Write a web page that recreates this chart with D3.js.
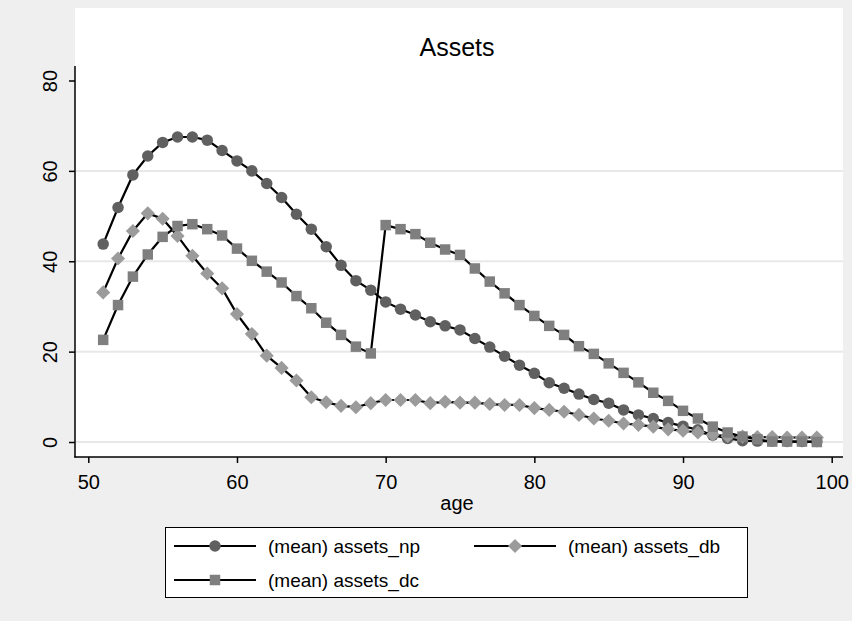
<!DOCTYPE html>
<meta charset="utf-8">
<style>
    body { margin: 0; background: #efefef; }
    text { font-family: "Liberation Sans", Arial, sans-serif; fill: #000; }
    .grid { stroke: #e8e8e8; stroke-width: 2; }
</style>
<body>
<script src="https://cdn.jsdelivr.net/npm/d3@7"></script>
<script>
    var width = 852,
        height = 621;

    var ages = d3.range(51, 100);

    var assetsNp = [43.8, 51.9, 59.1, 63.3, 66.3, 67.5, 67.5, 66.8, 64.5, 62.2,
        60.0, 57.2, 54.1, 50.4, 47.1, 43.2, 39.1, 35.7, 33.6, 31.0,
        29.4, 28.1, 26.6, 25.7, 24.8, 22.9, 21.0, 19.0, 17.0, 15.2,
        13.1, 11.9, 10.6, 9.4, 8.6, 7.1, 6.0, 5.2, 4.3, 3.5,
        2.7, 1.5, 0.8, 0.3, 0.2, 0.2, 0.1, 0.1, 0.1];

    var assetsDb = [33.1, 40.6, 46.7, 50.6, 49.4, 45.6, 41.2, 37.3, 34.0, 28.3,
        23.9, 19.1, 16.4, 13.6, 9.9, 8.8, 8.0, 7.7, 8.6, 9.3,
        9.3, 9.3, 8.6, 8.9, 8.7, 8.7, 8.4, 8.2, 8.2, 7.5,
        7.1, 6.7, 6.0, 5.2, 4.7, 4.1, 3.8, 3.4, 2.8, 2.5,
        2.1, 1.6, 1.3, 1.2, 1.1, 1.1, 1.0, 1.0, 1.0];

    var assetsDc = [22.6, 30.3, 36.6, 41.5, 45.4, 47.8, 48.2, 47.1, 45.7, 42.8,
        40.1, 37.7, 35.3, 32.3, 29.6, 26.4, 23.7, 21.1, 19.6, 48.0,
        47.1, 46.0, 44.1, 42.6, 41.4, 38.4, 35.5, 32.9, 30.3, 27.9,
        25.7, 23.7, 21.2, 19.5, 17.4, 15.3, 13.2, 10.9, 9.1, 6.9,
        5.2, 3.4, 2.1, 1.2, 0.6, 0.1, 0.1, 0.1, 0.0];

    var xTicks = [50, 60, 70, 80, 90, 100];
    var yTicks = [0, 20, 40, 60, 80];

    var series = [
        { name: "(mean) assets_np", values: assetsNp, shape: d3.symbolCircle, size: 104, rot: 0, color: "#606060" },
        { name: "(mean) assets_db", values: assetsDb, shape: d3.symbolSquare, size: 100, rot: 45, color: "#9b9b9b" },
        { name: "(mean) assets_dc", values: assetsDc, shape: d3.symbolSquare, size: 110, rot: 0, color: "#7f7f7f" }
    ];

    var svg = d3.select("body").append("svg")
        .attr("width", width)
        .attr("height", height);

    // plot region
    svg.append("rect")
        .attr("x", 75).attr("y", 8)
        .attr("width", 768).attr("height", 449)
        .attr("fill", "#fff");

    var x = d3.scaleLinear().domain([50, 100]).range([88.3, 831.7]);
    var y = d3.scaleLinear().domain([0, 80]).range([442, 80.5]);

    // grid lines (not at the top tick)
    svg.selectAll(".grid")
        .data(yTicks.filter(function (d) { return d < 80; }))
        .enter().append("line")
        .attr("class", "grid")
        .attr("x1", 76).attr("x2", 843)
        .attr("y1", function (d) { return y(d); })
        .attr("y2", function (d) { return y(d); });

    // axes
    var yAxis = svg.append("g")
        .attr("transform", "translate(75,0)")
        .call(d3.axisLeft(y).tickValues(yTicks).tickSize(6).tickFormat(d3.format("d")));
    yAxis.select(".domain").remove();
    yAxis.append("line")
        .attr("x1", 0).attr("x2", 0).attr("y1", 66).attr("y2", 457.5)
        .attr("stroke", "#000").attr("stroke-width", 1.5);
    yAxis.selectAll(".tick line").attr("stroke-width", 1.5);
    yAxis.selectAll(".tick text")
        .attr("font-size", 20)
        .attr("text-anchor", "middle")
        .attr("transform", "rotate(-90)")
        .attr("x", 0).attr("y", -25)
        .attr("dy", "0.36em");

    var xAxis = svg.append("g")
        .attr("transform", "translate(0,457)")
        .call(d3.axisBottom(x).tickValues(xTicks).tickSize(6).tickPadding(12).tickFormat(d3.format("d")));
    xAxis.select(".domain").remove();
    xAxis.append("line")
        .attr("x1", 74.3).attr("x2", 843).attr("y1", 0).attr("y2", 0)
        .attr("stroke", "#000").attr("stroke-width", 1.5);
    xAxis.selectAll(".tick line").attr("stroke-width", 1.5);
    xAxis.selectAll(".tick text").attr("font-size", 20);

    svg.append("text")
        .attr("x", 457).attr("y", 510)
        .attr("text-anchor", "middle")
        .attr("font-size", 20)
        .text("age");

    svg.append("text")
        .attr("x", 457).attr("y", 56)
        .attr("text-anchor", "middle")
        .attr("font-size", 25)
        .text("Assets");

    // series: line then markers, in order
    var line = d3.line()
        .x(function (d, i) { return x(ages[i]); })
        .y(function (d) { return y(d); });

    series.forEach(function (s) {
        var g = svg.append("g");
        g.append("path")
            .attr("d", line(s.values))
            .attr("fill", "none")
            .attr("stroke", "#000")
            .attr("stroke-width", 2.2);
        g.selectAll("path.mk")
            .data(s.values)
            .enter().append("path")
            .attr("class", "mk")
            .attr("d", d3.symbol().type(s.shape).size(s.size))
            .attr("transform", function (d, i) {
                return "translate(" + x(ages[i]) + "," + y(d) + ") rotate(" + s.rot + ")";
            })
            .attr("fill", s.color);
    });

    // legend
    var legend = svg.append("g");
    legend.append("rect")
        .attr("x", 165.5).attr("y", 527.5)
        .attr("width", 582).attr("height", 70)
        .attr("fill", "#fff").attr("stroke", "#000").attr("stroke-width", 1);

    var legendPos = [[174, 546], [474, 546], [174, 580]];
    series.forEach(function (s, i) {
        var lx = legendPos[i][0], ly = legendPos[i][1];
        var k = legend.append("g").attr("transform", "translate(" + lx + "," + ly + ")");
        k.append("line")
            .attr("x1", 0).attr("x2", 82).attr("y1", 0).attr("y2", 0)
            .attr("stroke", "#000").attr("stroke-width", 2.2);
        k.append("path")
            .attr("d", d3.symbol().type(s.shape).size(s.size))
            .attr("transform", "translate(41,0) rotate(" + s.rot + ")")
            .attr("fill", s.color);
        k.append("text")
            .attr("x", 94).attr("y", 7)
            .attr("font-size", 19)
            .text(s.name);
    });
</script>
</body>
